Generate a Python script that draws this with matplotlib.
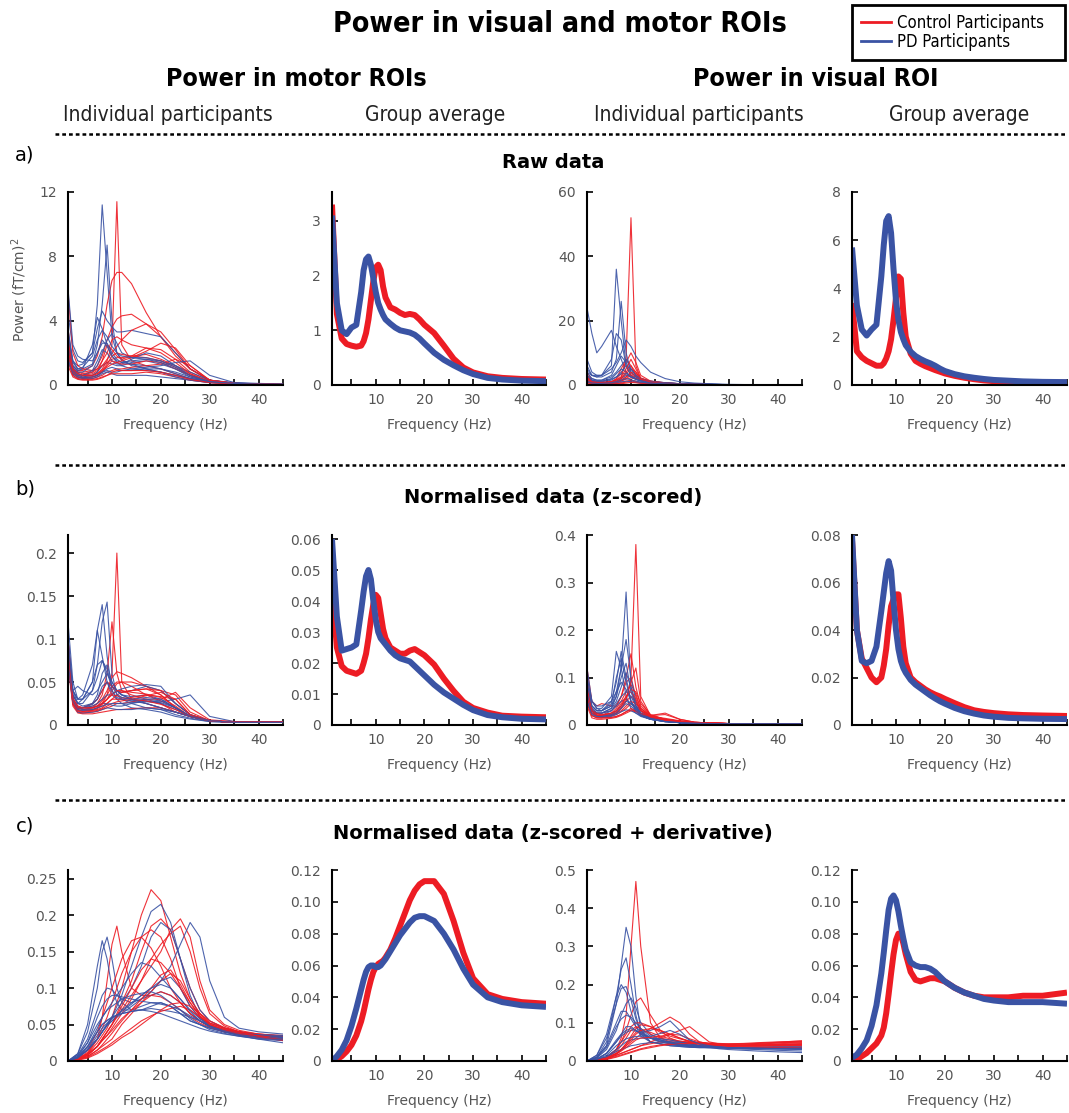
import matplotlib
matplotlib.use("Agg")
import matplotlib.pyplot as plt
from matplotlib.lines import Line2D

# colours used in the original figure
RED = "#ED1C24"
BLUE = "#3A53A4"
GREY = "#555555"

W, H = 1069, 1113

# frequency grids (Hz)
FREQ_AVG = [1, 2, 3, 4, 5, 6, 7, 7.5, 8, 8.5, 9, 9.5, 10, 10.5, 11, 11.5, 12,
            13, 14, 15, 16, 17, 18, 19, 20, 22, 24, 26, 28, 30, 33, 36, 40, 45]
FREQ_IND = [1, 2, 3, 4, 6, 7, 8, 9, 10, 11, 12, 14, 17, 20, 23, 26, 30, 35, 40, 45]
FREQ_DER = [1, 3, 5, 7, 8, 9, 10, 11, 12, 14, 16, 18, 20, 22, 24, 26, 28, 30, 33, 36, 40, 45]

# ---------------- a) raw data ----------------
motor_raw_ind_ctrl = [
    [3.0, 1.0, 0.7, 0.6, 0.6, 0.7, 1.0, 1.5, 2.5, 11.4, 2.5, 1.5, 1.2, 1.0, 0.7, 0.4, 0.2, 0.1, 0.05, 0.03],
    [3.5, 1.2, 0.9, 0.9, 1.2, 1.8, 3.0, 5.0, 6.5, 7.0, 7.0, 6.3, 4.5, 3.0, 1.8, 1.0, 0.3, 0.1, 0.05, 0.03],
    [3.0, 1.0, 0.8, 0.8, 0.9, 1.2, 1.8, 2.8, 3.6, 4.1, 4.3, 4.4, 3.8, 3.0, 2.0, 1.0, 0.3, 0.12, 0.06, 0.03],
    [2.5, 0.9, 0.7, 0.6, 0.7, 0.9, 1.2, 1.6, 2.0, 2.4, 2.8, 3.4, 3.8, 3.3, 2.2, 1.0, 0.3, 0.1, 0.05, 0.03],
    [2.5, 0.9, 0.6, 0.5, 0.6, 0.8, 1.5, 2.5, 2.2, 1.8, 1.6, 1.8, 2.3, 2.2, 1.6, 0.8, 0.25, 0.1, 0.05, 0.03],
    [5.8, 2.0, 1.2, 1.0, 0.9, 1.0, 1.2, 1.4, 1.6, 1.7, 1.7, 1.8, 1.9, 1.6, 1.2, 0.7, 0.2, 0.1, 0.05, 0.03],
    [2.0, 0.7, 0.5, 0.4, 0.4, 0.5, 0.6, 0.8, 0.9, 1.0, 1.0, 1.1, 1.2, 1.3, 1.6, 1.2, 0.3, 0.1, 0.04, 0.02],
    [1.5, 0.6, 0.4, 0.35, 0.35, 0.4, 0.5, 0.6, 0.7, 0.7, 0.7, 0.7, 0.8, 0.7, 0.5, 0.3, 0.15, 0.07, 0.03, 0.02],
    [3.0, 1.0, 0.8, 0.7, 0.8, 1.0, 1.5, 2.0, 2.8, 3.0, 2.8, 2.5, 2.3, 2.0, 1.4, 0.7, 0.2, 0.1, 0.05, 0.03],
    [2.2, 0.8, 0.5, 0.45, 0.5, 0.6, 0.8, 1.2, 1.5, 1.4, 1.3, 1.3, 1.5, 1.4, 1.0, 0.6, 0.2, 0.08, 0.04, 0.02],
    [1.8, 0.7, 0.5, 0.45, 0.5, 0.6, 0.9, 1.3, 1.8, 2.0, 1.9, 1.8, 1.7, 1.5, 1.1, 0.6, 0.2, 0.08, 0.04, 0.02],
    [2.8, 1.0, 0.7, 0.6, 0.6, 0.7, 0.9, 1.1, 1.3, 1.4, 1.5, 1.7, 2.1, 2.6, 2.3, 1.2, 0.3, 0.1, 0.05, 0.03],
    [1.2, 0.5, 0.35, 0.3, 0.3, 0.35, 0.45, 0.6, 0.8, 0.9, 0.9, 0.9, 0.9, 0.8, 0.6, 0.35, 0.15, 0.06, 0.03, 0.02],
]
motor_raw_ind_pd = [
    [4.5, 2.2, 1.5, 1.4, 2.0, 5.0, 11.2, 7.0, 3.0, 2.0, 1.6, 1.2, 1.0, 0.8, 0.6, 0.4, 0.2, 0.1, 0.08, 0.05],
    [3.5, 1.5, 1.0, 1.0, 1.3, 2.5, 5.0, 8.7, 4.0, 2.0, 1.5, 1.3, 1.2, 1.0, 0.7, 0.4, 0.2, 0.1, 0.06, 0.04],
    [3.0, 1.5, 1.2, 1.3, 2.0, 3.5, 4.6, 4.0, 3.6, 3.3, 3.3, 3.4, 3.2, 3.0, 2.0, 1.0, 0.3, 0.15, 0.1, 0.06],
    [2.5, 1.2, 0.9, 1.0, 2.5, 4.2, 3.5, 2.5, 1.8, 1.4, 1.2, 1.0, 0.9, 0.8, 0.6, 0.4, 0.2, 0.1, 0.05, 0.03],
    [2.0, 0.9, 0.6, 0.5, 0.6, 0.8, 1.2, 1.4, 1.3, 1.2, 1.2, 1.4, 1.5, 1.3, 1.0, 0.6, 0.2, 0.1, 0.05, 0.03],
    [2.2, 1.0, 0.7, 0.6, 0.8, 1.2, 2.0, 2.8, 3.2, 2.6, 2.0, 1.7, 1.6, 1.5, 1.2, 0.8, 0.3, 0.1, 0.05, 0.03],
    [1.5, 0.6, 0.4, 0.35, 0.4, 0.5, 0.7, 0.8, 0.7, 0.6, 0.6, 0.6, 0.6, 0.5, 0.4, 0.3, 0.15, 0.08, 0.04, 0.02],
    [1.8, 0.8, 0.6, 0.6, 0.9, 1.5, 2.2, 2.0, 1.5, 1.3, 1.3, 1.6, 2.0, 1.8, 1.2, 0.6, 0.2, 0.1, 0.05, 0.03],
    [2.0, 0.8, 0.5, 0.4, 0.5, 0.6, 0.8, 0.9, 0.8, 0.8, 0.9, 1.0, 1.1, 1.2, 1.4, 1.5, 0.6, 0.15, 0.06, 0.03],
    [6.0, 2.5, 1.8, 1.6, 1.5, 2.0, 2.6, 2.6, 2.0, 1.6, 1.4, 1.3, 1.0, 0.8, 0.5, 0.3, 0.15, 0.08, 0.04, 0.02],
    [2.6, 1.1, 0.8, 0.8, 1.2, 2.0, 2.8, 2.4, 1.8, 1.5, 1.4, 1.5, 1.6, 1.4, 1.0, 0.5, 0.2, 0.08, 0.04, 0.02],
    [1.6, 0.7, 0.5, 0.45, 0.5, 0.6, 0.8, 1.0, 1.1, 1.0, 0.9, 0.9, 1.0, 1.0, 0.8, 0.5, 0.2, 0.08, 0.04, 0.02],
    [3.2, 1.4, 1.0, 1.1, 1.8, 2.8, 3.4, 3.0, 2.4, 2.0, 1.8, 1.7, 1.7, 1.5, 1.1, 0.6, 0.2, 0.1, 0.05, 0.03],
]
motor_raw_avg_ctrl = [3.3, 1.3, 0.85, 0.75, 0.72, 0.7, 0.72, 0.8, 0.95, 1.2, 1.55, 1.9, 2.15, 2.2, 2.1, 1.8, 1.6,
                      1.42, 1.38, 1.32, 1.28, 1.3, 1.28, 1.2, 1.1, 0.95, 0.72, 0.48, 0.32, 0.23, 0.16, 0.13, 0.11, 0.1]
motor_raw_avg_pd = [3.1, 1.5, 1.0, 0.93, 1.05, 1.1, 1.7, 2.1, 2.3, 2.35, 2.2, 1.95, 1.7, 1.5, 1.38, 1.28, 1.2,
                    1.12, 1.05, 1.0, 0.98, 0.96, 0.92, 0.85, 0.76, 0.59, 0.46, 0.36, 0.27, 0.2, 0.13, 0.1, 0.08, 0.07]

visual_raw_ind_ctrl = [
    [3, 1, 0.8, 0.8, 1, 1.5, 2.5, 8, 52, 6, 2, 1.0, 0.5, 0.3, 0.2, 0.15, 0.1, 0.05, 0.03, 0.02],
    [2, 0.8, 0.6, 0.6, 1, 1.8, 3.5, 7, 10, 7, 3, 1.2, 0.6, 0.3, 0.2, 0.15, 0.1, 0.05, 0.03, 0.02],
    [2, 0.8, 0.6, 0.6, 1, 2, 5, 8, 6, 3, 1.5, 0.8, 0.5, 0.3, 0.2, 0.15, 0.1, 0.05, 0.03, 0.02],
    [1.5, 0.6, 0.5, 0.5, 0.7, 1, 2, 3.5, 5, 4, 2, 1.0, 0.5, 0.3, 0.2, 0.12, 0.08, 0.04, 0.02, 0.01],
    [1.2, 0.5, 0.4, 0.4, 0.5, 0.8, 1.2, 2, 3, 2.5, 1.5, 0.8, 0.5, 0.3, 0.2, 0.12, 0.08, 0.04, 0.02, 0.01],
    [2.5, 1, 0.7, 0.6, 0.7, 0.9, 1.3, 1.8, 2.2, 2, 1.6, 1.0, 0.6, 0.35, 0.2, 0.12, 0.08, 0.04, 0.02, 0.01],
    [1, 0.4, 0.3, 0.3, 0.4, 0.5, 0.8, 1.2, 1.5, 1.2, 0.8, 0.5, 0.3, 0.2, 0.15, 0.1, 0.06, 0.03, 0.02, 0.01],
    [4, 1.5, 1, 0.8, 0.8, 1, 1.5, 2.5, 4, 3.5, 2.2, 1.2, 0.7, 0.4, 0.25, 0.15, 0.08, 0.04, 0.02, 0.01],
    [0.8, 0.3, 0.25, 0.25, 0.3, 0.4, 0.6, 0.9, 1.2, 1, 0.7, 0.45, 0.3, 0.2, 0.12, 0.08, 0.05, 0.03, 0.02, 0.01],
    [2, 0.7, 0.5, 0.5, 0.6, 1, 2, 4, 6, 4, 1.8, 0.8, 0.4, 0.25, 0.15, 0.1, 0.06, 0.03, 0.02, 0.01],
    [1.5, 0.6, 0.5, 0.5, 0.6, 0.9, 1.5, 2.5, 3.5, 3.0, 1.8, 1.0, 0.5, 0.3, 0.2, 0.12, 0.07, 0.04, 0.02, 0.01],
    [0.6, 0.25, 0.2, 0.2, 0.25, 0.3, 0.4, 0.6, 0.8, 0.7, 0.5, 0.3, 0.2, 0.15, 0.1, 0.07, 0.04, 0.02, 0.01, 0.01],
    [2.5, 1, 0.8, 0.8, 1, 1.5, 2.5, 5, 8, 5, 2, 0.9, 0.45, 0.25, 0.15, 0.1, 0.06, 0.03, 0.02, 0.01],
]
visual_raw_ind_pd = [
    [24, 16, 10, 12, 17, 12, 8, 4, 2.5, 1.8, 1.3, 0.8, 0.5, 0.3, 0.2, 0.15, 0.1, 0.05, 0.03, 0.02],
    [8, 4, 3, 3, 6, 36, 20, 6, 3, 2, 1.5, 1.0, 0.6, 0.4, 0.3, 0.2, 0.1, 0.05, 0.03, 0.02],
    [6, 3, 2.5, 2.5, 4, 8, 26, 10, 4, 2.5, 1.8, 1.2, 0.7, 0.4, 0.3, 0.2, 0.1, 0.05, 0.03, 0.02],
    [5, 3, 2.5, 3, 8, 16, 14, 6, 3, 2, 1.5, 1.0, 0.6, 0.4, 0.3, 0.2, 0.1, 0.05, 0.03, 0.02],
    [4, 3, 3, 3, 5, 7, 10, 14, 12, 9, 7, 4, 2, 1, 0.6, 0.4, 0.2, 0.1, 0.05, 0.03],
    [3, 2, 1.5, 1.5, 3, 6, 9, 7, 4, 2.5, 1.8, 1.0, 0.6, 0.4, 0.3, 0.2, 0.1, 0.05, 0.03, 0.02],
    [2, 1.2, 1, 1, 1.5, 2.5, 4, 6, 5, 3, 2, 1.2, 0.7, 0.4, 0.3, 0.2, 0.1, 0.05, 0.03, 0.02],
    [1.5, 0.8, 0.6, 0.6, 0.8, 1.2, 2, 3, 2.5, 1.8, 1.2, 0.8, 0.5, 0.3, 0.2, 0.15, 0.08, 0.04, 0.02, 0.01],
    [3, 1.5, 1.2, 1.2, 2, 3.5, 5, 4, 2.5, 1.8, 1.3, 0.9, 0.6, 0.4, 0.3, 0.2, 0.1, 0.05, 0.03, 0.02],
    [1, 0.5, 0.4, 0.4, 0.5, 0.7, 1, 1.2, 1.0, 0.8, 0.6, 0.4, 0.3, 0.2, 0.15, 0.1, 0.06, 0.03, 0.02, 0.01],
    [4, 2, 1.5, 1.5, 2.5, 4, 6, 8, 5, 3, 2, 1.0, 0.6, 0.4, 0.25, 0.15, 0.08, 0.04, 0.02, 0.01],
    [2.5, 1.5, 1.2, 1.2, 1.8, 2.5, 3.5, 3.5, 2.5, 1.8, 1.3, 0.8, 0.5, 0.3, 0.2, 0.12, 0.07, 0.04, 0.02, 0.01],
    [1.2, 0.6, 0.5, 0.5, 0.7, 1, 1.5, 2, 1.6, 1.2, 0.9, 0.6, 0.4, 0.25, 0.15, 0.1, 0.06, 0.03, 0.02, 0.01],
]
visual_raw_avg_ctrl = [3.4, 1.4, 1.15, 1.0, 0.9, 0.8, 0.8, 0.9, 1.1, 1.4, 1.9, 2.7, 3.6, 4.5, 4.4, 3.0, 2.0,
                       1.3, 1.0, 0.88, 0.78, 0.7, 0.62, 0.55, 0.48, 0.38, 0.3, 0.24, 0.19, 0.16, 0.13, 0.11, 0.1, 0.1]
visual_raw_avg_pd = [5.7, 3.3, 2.3, 2.05, 2.3, 2.5, 4.5, 5.8, 6.8, 7.0, 6.3, 4.8, 3.5, 2.7, 2.2, 1.9, 1.65,
                     1.38, 1.2, 1.08, 0.98, 0.9, 0.8, 0.68, 0.58, 0.45, 0.36, 0.3, 0.25, 0.21, 0.18, 0.15, 0.13, 0.12]

# ---------------- b) z-scored ----------------
motor_z_ind_ctrl = [
    [0.10, 0.03, 0.02, 0.018, 0.018, 0.02, 0.025, 0.035, 0.06, 0.2, 0.05, 0.03, 0.025, 0.02, 0.015, 0.01, 0.005, 0.003, 0.003, 0.003],
    [0.10, 0.035, 0.022, 0.02, 0.02, 0.025, 0.035, 0.06, 0.12, 0.06, 0.04, 0.035, 0.03, 0.025, 0.015, 0.01, 0.005, 0.003, 0.003, 0.003],
    [0.09, 0.03, 0.02, 0.02, 0.022, 0.025, 0.03, 0.04, 0.055, 0.062, 0.06, 0.055, 0.045, 0.035, 0.02, 0.01, 0.005, 0.003, 0.003, 0.003],
    [0.09, 0.03, 0.02, 0.018, 0.02, 0.022, 0.025, 0.03, 0.04, 0.048, 0.05, 0.05, 0.045, 0.04, 0.025, 0.012, 0.005, 0.003, 0.003, 0.003],
    [0.08, 0.025, 0.017, 0.016, 0.017, 0.018, 0.02, 0.025, 0.03, 0.035, 0.038, 0.04, 0.042, 0.04, 0.035, 0.015, 0.005, 0.003, 0.003, 0.003],
    [0.08, 0.025, 0.015, 0.014, 0.015, 0.016, 0.018, 0.02, 0.022, 0.025, 0.025, 0.027, 0.03, 0.03, 0.038, 0.02, 0.006, 0.004, 0.004, 0.004],
    [0.10, 0.03, 0.02, 0.02, 0.025, 0.03, 0.04, 0.05, 0.045, 0.04, 0.038, 0.04, 0.042, 0.035, 0.02, 0.01, 0.005, 0.003, 0.003, 0.003],
    [0.07, 0.022, 0.014, 0.013, 0.013, 0.014, 0.015, 0.016, 0.017, 0.018, 0.018, 0.019, 0.02, 0.02, 0.015, 0.01, 0.005, 0.003, 0.003, 0.003],
    [0.09, 0.03, 0.022, 0.02, 0.02, 0.022, 0.028, 0.035, 0.045, 0.05, 0.05, 0.045, 0.035, 0.028, 0.02, 0.01, 0.005, 0.004, 0.004, 0.004],
    [0.08, 0.025, 0.018, 0.016, 0.018, 0.02, 0.022, 0.025, 0.03, 0.03, 0.03, 0.032, 0.035, 0.033, 0.03, 0.012, 0.005, 0.003, 0.003, 0.003],
    [0.085, 0.028, 0.018, 0.016, 0.017, 0.019, 0.024, 0.03, 0.036, 0.04, 0.04, 0.038, 0.036, 0.032, 0.022, 0.01, 0.005, 0.003, 0.003, 0.003],
    [0.075, 0.024, 0.016, 0.015, 0.016, 0.017, 0.019, 0.022, 0.025, 0.027, 0.028, 0.03, 0.034, 0.038, 0.03, 0.012, 0.005, 0.003, 0.003, 0.003],
    [0.09, 0.03, 0.02, 0.02, 0.02, 0.022, 0.025, 0.03, 0.035, 0.034, 0.032, 0.03, 0.028, 0.024, 0.018, 0.01, 0.005, 0.003, 0.003, 0.003],
]
motor_z_ind_pd = [
    [0.12, 0.05, 0.03, 0.03, 0.05, 0.11, 0.14, 0.08, 0.04, 0.03, 0.03, 0.025, 0.02, 0.018, 0.012, 0.008, 0.004, 0.003, 0.003, 0.003],
    [0.10, 0.04, 0.025, 0.025, 0.04, 0.07, 0.12, 0.143, 0.06, 0.035, 0.03, 0.028, 0.025, 0.02, 0.015, 0.01, 0.005, 0.003, 0.003, 0.003],
    [0.10, 0.04, 0.03, 0.035, 0.07, 0.11, 0.08, 0.05, 0.035, 0.03, 0.025, 0.02, 0.018, 0.015, 0.01, 0.007, 0.004, 0.003, 0.003, 0.003],
    [0.09, 0.035, 0.025, 0.03, 0.05, 0.07, 0.075, 0.065, 0.045, 0.04, 0.038, 0.04, 0.045, 0.04, 0.025, 0.012, 0.005, 0.003, 0.003, 0.003],
    [0.08, 0.03, 0.02, 0.02, 0.025, 0.03, 0.04, 0.05, 0.045, 0.04, 0.035, 0.033, 0.035, 0.03, 0.02, 0.01, 0.005, 0.003, 0.003, 0.003],
    [0.08, 0.03, 0.02, 0.018, 0.02, 0.022, 0.025, 0.025, 0.023, 0.022, 0.022, 0.025, 0.028, 0.027, 0.03, 0.035, 0.01, 0.004, 0.003, 0.003],
    [0.10, 0.035, 0.025, 0.022, 0.025, 0.035, 0.06, 0.07, 0.05, 0.04, 0.035, 0.03, 0.028, 0.025, 0.018, 0.01, 0.005, 0.003, 0.003, 0.003],
    [0.07, 0.025, 0.015, 0.014, 0.015, 0.016, 0.018, 0.02, 0.019, 0.018, 0.018, 0.018, 0.02, 0.018, 0.015, 0.01, 0.005, 0.003, 0.003, 0.003],
    [0.09, 0.04, 0.045, 0.04, 0.035, 0.04, 0.05, 0.06, 0.05, 0.04, 0.035, 0.03, 0.025, 0.02, 0.015, 0.01, 0.005, 0.003, 0.003, 0.003],
    [0.08, 0.03, 0.02, 0.02, 0.022, 0.025, 0.03, 0.035, 0.035, 0.04, 0.042, 0.045, 0.047, 0.045, 0.025, 0.012, 0.005, 0.003, 0.003, 0.003],
    [0.085, 0.03, 0.02, 0.02, 0.024, 0.03, 0.045, 0.05, 0.04, 0.032, 0.03, 0.028, 0.03, 0.028, 0.02, 0.01, 0.005, 0.003, 0.003, 0.003],
    [0.075, 0.028, 0.018, 0.017, 0.018, 0.02, 0.022, 0.024, 0.025, 0.025, 0.025, 0.026, 0.027, 0.026, 0.02, 0.01, 0.005, 0.003, 0.003, 0.003],
    [0.095, 0.04, 0.03, 0.03, 0.04, 0.055, 0.075, 0.06, 0.045, 0.036, 0.032, 0.03, 0.032, 0.03, 0.02, 0.01, 0.005, 0.003, 0.003, 0.003],
]
motor_z_avg_ctrl = [0.045, 0.025, 0.019, 0.0175, 0.017, 0.0165, 0.0175, 0.02, 0.023, 0.028, 0.034, 0.039, 0.042, 0.041,
                    0.036, 0.031, 0.028, 0.025, 0.024, 0.023, 0.023, 0.024, 0.0245, 0.0235, 0.0225, 0.0195, 0.015,
                    0.011, 0.0075, 0.0055, 0.004, 0.003, 0.0027, 0.0025]
motor_z_avg_pd = [0.06, 0.035, 0.024, 0.0245, 0.025, 0.026, 0.037, 0.043, 0.048, 0.05, 0.047, 0.04, 0.034, 0.03,
                  0.028, 0.027, 0.026, 0.024, 0.0225, 0.0215, 0.021, 0.0205, 0.019, 0.0175, 0.016, 0.013, 0.0105,
                  0.0085, 0.0065, 0.0048, 0.0032, 0.0025, 0.002, 0.0018]

visual_z_ind_ctrl = [
    [0.08, 0.03, 0.02, 0.018, 0.02, 0.025, 0.035, 0.05, 0.1, 0.38, 0.06, 0.02, 0.01, 0.007, 0.005, 0.004, 0.003, 0.003, 0.003, 0.003],
    [0.12, 0.05, 0.04, 0.045, 0.04, 0.04, 0.06, 0.1, 0.15, 0.08, 0.04, 0.02, 0.012, 0.008, 0.005, 0.004, 0.003, 0.003, 0.003, 0.003],
    [0.07, 0.03, 0.025, 0.025, 0.03, 0.04, 0.06, 0.09, 0.1, 0.06, 0.035, 0.018, 0.01, 0.007, 0.005, 0.004, 0.003, 0.003, 0.003, 0.003],
    [0.06, 0.025, 0.02, 0.02, 0.025, 0.035, 0.05, 0.07, 0.085, 0.065, 0.035, 0.018, 0.01, 0.007, 0.005, 0.004, 0.003, 0.003, 0.003, 0.003],
    [0.05, 0.02, 0.015, 0.015, 0.02, 0.025, 0.035, 0.05, 0.06, 0.05, 0.03, 0.02, 0.022, 0.012, 0.006, 0.004, 0.003, 0.003, 0.003, 0.003],
    [0.06, 0.025, 0.02, 0.018, 0.02, 0.022, 0.028, 0.035, 0.045, 0.04, 0.03, 0.02, 0.025, 0.012, 0.006, 0.004, 0.003, 0.003, 0.003, 0.003],
    [0.05, 0.02, 0.016, 0.015, 0.016, 0.018, 0.022, 0.028, 0.035, 0.03, 0.025, 0.018, 0.012, 0.008, 0.005, 0.004, 0.003, 0.003, 0.003, 0.003],
    [0.09, 0.035, 0.025, 0.02, 0.022, 0.025, 0.03, 0.04, 0.05, 0.045, 0.035, 0.02, 0.012, 0.008, 0.005, 0.004, 0.003, 0.003, 0.003, 0.003],
    [0.04, 0.015, 0.012, 0.012, 0.014, 0.016, 0.02, 0.025, 0.03, 0.028, 0.022, 0.015, 0.01, 0.007, 0.005, 0.004, 0.003, 0.003, 0.003, 0.003],
    [0.07, 0.03, 0.022, 0.02, 0.025, 0.03, 0.045, 0.06, 0.075, 0.07, 0.045, 0.022, 0.012, 0.008, 0.005, 0.004, 0.003, 0.003, 0.003, 0.003],
    [0.06, 0.025, 0.02, 0.02, 0.022, 0.028, 0.04, 0.06, 0.07, 0.055, 0.03, 0.016, 0.01, 0.007, 0.005, 0.004, 0.003, 0.003, 0.003, 0.003],
    [0.045, 0.02, 0.015, 0.015, 0.016, 0.018, 0.022, 0.028, 0.032, 0.03, 0.024, 0.018, 0.014, 0.009, 0.006, 0.004, 0.003, 0.003, 0.003, 0.003],
    [0.08, 0.03, 0.024, 0.022, 0.025, 0.03, 0.04, 0.055, 0.09, 0.12, 0.05, 0.02, 0.01, 0.007, 0.005, 0.004, 0.003, 0.003, 0.003, 0.003],
]
visual_z_ind_pd = [
    [0.10, 0.05, 0.035, 0.03, 0.04, 0.06, 0.12, 0.28, 0.08, 0.04, 0.025, 0.015, 0.008, 0.005, 0.004, 0.003, 0.003, 0.003, 0.003, 0.003],
    [0.12, 0.05, 0.035, 0.035, 0.06, 0.155, 0.12, 0.06, 0.035, 0.025, 0.02, 0.012, 0.008, 0.005, 0.004, 0.003, 0.003, 0.003, 0.003, 0.003],
    [0.09, 0.04, 0.03, 0.03, 0.05, 0.09, 0.155, 0.1, 0.05, 0.03, 0.02, 0.012, 0.008, 0.005, 0.004, 0.003, 0.003, 0.003, 0.003, 0.003],
    [0.08, 0.04, 0.03, 0.03, 0.04, 0.07, 0.12, 0.18, 0.1, 0.05, 0.03, 0.015, 0.008, 0.005, 0.004, 0.003, 0.003, 0.003, 0.003, 0.003],
    [0.07, 0.03, 0.025, 0.025, 0.035, 0.05, 0.08, 0.11, 0.08, 0.045, 0.03, 0.015, 0.008, 0.005, 0.004, 0.003, 0.003, 0.003, 0.003, 0.003],
    [0.06, 0.03, 0.02, 0.02, 0.03, 0.045, 0.06, 0.07, 0.06, 0.04, 0.025, 0.015, 0.008, 0.005, 0.004, 0.003, 0.003, 0.003, 0.003, 0.003],
    [0.10, 0.05, 0.04, 0.04, 0.05, 0.07, 0.09, 0.075, 0.05, 0.035, 0.025, 0.015, 0.008, 0.005, 0.004, 0.003, 0.003, 0.003, 0.003, 0.003],
    [0.05, 0.025, 0.02, 0.018, 0.02, 0.025, 0.035, 0.045, 0.04, 0.03, 0.02, 0.012, 0.007, 0.005, 0.004, 0.003, 0.003, 0.003, 0.003, 0.003],
    [0.08, 0.035, 0.025, 0.025, 0.03, 0.04, 0.05, 0.055, 0.045, 0.035, 0.025, 0.015, 0.008, 0.005, 0.004, 0.003, 0.003, 0.003, 0.003, 0.003],
    [0.06, 0.025, 0.018, 0.016, 0.018, 0.022, 0.028, 0.032, 0.03, 0.025, 0.018, 0.012, 0.007, 0.005, 0.004, 0.003, 0.003, 0.003, 0.003, 0.003],
    [0.07, 0.03, 0.025, 0.025, 0.035, 0.06, 0.1, 0.13, 0.07, 0.04, 0.025, 0.014, 0.008, 0.005, 0.004, 0.003, 0.003, 0.003, 0.003, 0.003],
    [0.05, 0.022, 0.018, 0.018, 0.022, 0.03, 0.04, 0.05, 0.045, 0.035, 0.022, 0.013, 0.007, 0.005, 0.004, 0.003, 0.003, 0.003, 0.003, 0.003],
    [0.09, 0.04, 0.03, 0.03, 0.045, 0.1, 0.14, 0.09, 0.05, 0.03, 0.02, 0.012, 0.007, 0.005, 0.004, 0.003, 0.003, 0.003, 0.003, 0.003],
]
visual_z_avg_ctrl = [0.078, 0.04, 0.028, 0.024, 0.02, 0.018, 0.02, 0.025, 0.032, 0.042, 0.05, 0.053, 0.055, 0.055,
                     0.045, 0.033, 0.026, 0.02, 0.018, 0.0165, 0.015, 0.0138, 0.0128, 0.012, 0.011, 0.0092, 0.0075,
                     0.0062, 0.0055, 0.005, 0.0045, 0.0042, 0.004, 0.0038]
visual_z_avg_pd = [0.08, 0.04, 0.027, 0.026, 0.027, 0.033, 0.048, 0.056, 0.064, 0.069, 0.065, 0.052, 0.04, 0.032,
                   0.027, 0.024, 0.022, 0.019, 0.017, 0.0155, 0.014, 0.0125, 0.0112, 0.01, 0.009, 0.0072, 0.0058,
                   0.0048, 0.004, 0.0035, 0.003, 0.0028, 0.0026, 0.0025]

# ---------------- c) z-scored + derivative ----------------
motor_d_ind_ctrl = [
    [0.0, 0.003, 0.01, 0.03, 0.06, 0.11, 0.16, 0.185, 0.15, 0.1, 0.09, 0.09, 0.088, 0.08, 0.07, 0.06, 0.052, 0.046, 0.04, 0.037, 0.034, 0.03],
    [0.0, 0.003, 0.01, 0.025, 0.035, 0.045, 0.06, 0.08, 0.1, 0.15, 0.2, 0.235, 0.22, 0.17, 0.12, 0.085, 0.065, 0.052, 0.045, 0.04, 0.036, 0.033],
    [0.0, 0.003, 0.01, 0.02, 0.03, 0.04, 0.05, 0.065, 0.08, 0.11, 0.15, 0.185, 0.195, 0.18, 0.14, 0.1, 0.07, 0.055, 0.045, 0.04, 0.037, 0.034],
    [0.0, 0.002, 0.008, 0.02, 0.03, 0.04, 0.05, 0.06, 0.07, 0.09, 0.11, 0.13, 0.15, 0.18, 0.195, 0.17, 0.11, 0.07, 0.05, 0.042, 0.037, 0.034],
    [0.0, 0.002, 0.008, 0.02, 0.028, 0.035, 0.045, 0.055, 0.065, 0.085, 0.11, 0.14, 0.16, 0.175, 0.185, 0.15, 0.1, 0.065, 0.048, 0.04, 0.036, 0.033],
    [0.0, 0.003, 0.012, 0.03, 0.045, 0.06, 0.08, 0.1, 0.12, 0.15, 0.17, 0.18, 0.17, 0.14, 0.1, 0.075, 0.06, 0.05, 0.043, 0.038, 0.034, 0.03],
    [0.0, 0.004, 0.015, 0.04, 0.06, 0.08, 0.1, 0.12, 0.14, 0.165, 0.17, 0.155, 0.13, 0.1, 0.08, 0.065, 0.055, 0.047, 0.04, 0.036, 0.032, 0.028],
    [0.0, 0.002, 0.006, 0.015, 0.02, 0.025, 0.03, 0.04, 0.05, 0.065, 0.08, 0.095, 0.11, 0.12, 0.11, 0.085, 0.065, 0.052, 0.045, 0.04, 0.035, 0.03],
    [0.0, 0.002, 0.008, 0.02, 0.028, 0.035, 0.042, 0.05, 0.058, 0.07, 0.08, 0.09, 0.095, 0.09, 0.08, 0.065, 0.055, 0.048, 0.043, 0.04, 0.037, 0.035],
    [0.0, 0.002, 0.005, 0.012, 0.016, 0.02, 0.025, 0.03, 0.035, 0.045, 0.055, 0.062, 0.068, 0.072, 0.075, 0.07, 0.06, 0.052, 0.045, 0.04, 0.035, 0.03],
    [0.0, 0.002, 0.008, 0.02, 0.03, 0.04, 0.05, 0.062, 0.075, 0.1, 0.125, 0.14, 0.135, 0.12, 0.1, 0.08, 0.062, 0.05, 0.042, 0.037, 0.033, 0.03],
    [0.0, 0.002, 0.006, 0.015, 0.022, 0.03, 0.038, 0.047, 0.055, 0.07, 0.085, 0.1, 0.118, 0.125, 0.105, 0.08, 0.062, 0.05, 0.043, 0.038, 0.034, 0.03],
    [0.0, 0.001, 0.004, 0.01, 0.014, 0.018, 0.022, 0.027, 0.032, 0.04, 0.05, 0.06, 0.07, 0.078, 0.08, 0.075, 0.065, 0.055, 0.046, 0.04, 0.034, 0.028],
]
motor_d_ind_pd = [
    [0.0, 0.01, 0.05, 0.13, 0.165, 0.14, 0.1, 0.08, 0.07, 0.07, 0.075, 0.08, 0.08, 0.075, 0.065, 0.055, 0.05, 0.045, 0.04, 0.038, 0.035, 0.033],
    [0.0, 0.01, 0.04, 0.1, 0.15, 0.17, 0.14, 0.1, 0.08, 0.07, 0.07, 0.075, 0.08, 0.075, 0.065, 0.055, 0.05, 0.045, 0.04, 0.037, 0.035, 0.033],
    [0.0, 0.008, 0.03, 0.07, 0.09, 0.1, 0.098, 0.09, 0.085, 0.08, 0.085, 0.09, 0.095, 0.09, 0.08, 0.065, 0.055, 0.048, 0.042, 0.038, 0.035, 0.033],
    [0.0, 0.005, 0.015, 0.03, 0.04, 0.05, 0.06, 0.075, 0.09, 0.13, 0.17, 0.205, 0.215, 0.19, 0.14, 0.09, 0.06, 0.048, 0.04, 0.035, 0.032, 0.03],
    [0.0, 0.005, 0.015, 0.03, 0.04, 0.05, 0.055, 0.06, 0.065, 0.075, 0.085, 0.095, 0.11, 0.13, 0.16, 0.19, 0.17, 0.11, 0.06, 0.045, 0.04, 0.037],
    [0.0, 0.005, 0.015, 0.03, 0.04, 0.05, 0.06, 0.07, 0.08, 0.1, 0.13, 0.17, 0.19, 0.18, 0.14, 0.1, 0.07, 0.055, 0.045, 0.04, 0.036, 0.033],
    [0.0, 0.008, 0.025, 0.05, 0.06, 0.07, 0.08, 0.09, 0.1, 0.12, 0.135, 0.13, 0.115, 0.1, 0.085, 0.07, 0.058, 0.05, 0.043, 0.038, 0.035, 0.032],
    [0.0, 0.005, 0.02, 0.04, 0.05, 0.055, 0.06, 0.063, 0.065, 0.068, 0.07, 0.072, 0.07, 0.068, 0.065, 0.06, 0.055, 0.048, 0.042, 0.037, 0.034, 0.032],
    [0.0, 0.005, 0.015, 0.03, 0.04, 0.048, 0.055, 0.062, 0.07, 0.08, 0.09, 0.1, 0.11, 0.115, 0.1, 0.075, 0.058, 0.048, 0.04, 0.035, 0.03, 0.028],
    [0.0, 0.006, 0.02, 0.045, 0.06, 0.07, 0.075, 0.08, 0.085, 0.09, 0.093, 0.095, 0.09, 0.08, 0.07, 0.058, 0.05, 0.043, 0.038, 0.034, 0.03, 0.025],
    [0.0, 0.006, 0.025, 0.06, 0.075, 0.085, 0.09, 0.09, 0.088, 0.085, 0.082, 0.08, 0.078, 0.075, 0.07, 0.062, 0.055, 0.048, 0.042, 0.038, 0.036, 0.035],
    [0.0, 0.004, 0.015, 0.035, 0.045, 0.052, 0.058, 0.063, 0.068, 0.078, 0.09, 0.1, 0.105, 0.1, 0.085, 0.068, 0.055, 0.047, 0.04, 0.036, 0.033, 0.031],
    [0.0, 0.005, 0.018, 0.04, 0.05, 0.056, 0.06, 0.063, 0.065, 0.068, 0.07, 0.068, 0.065, 0.06, 0.055, 0.05, 0.045, 0.041, 0.037, 0.034, 0.031, 0.029],
]
motor_d_avg_ctrl = [0.0, 0.001, 0.003, 0.006, 0.01, 0.016, 0.025, 0.031, 0.038, 0.045, 0.051, 0.056, 0.059, 0.061,
                    0.062, 0.063, 0.065, 0.07, 0.077, 0.085, 0.093, 0.101, 0.107, 0.111, 0.113, 0.113, 0.105, 0.088,
                    0.068, 0.052, 0.042, 0.039, 0.037, 0.036]
motor_d_avg_pd = [0.0, 0.003, 0.007, 0.013, 0.022, 0.033, 0.045, 0.051, 0.056, 0.059, 0.06, 0.06, 0.059, 0.059,
                  0.06, 0.062, 0.064, 0.069, 0.074, 0.079, 0.083, 0.087, 0.09, 0.091, 0.091, 0.088, 0.08, 0.07,
                  0.058, 0.048, 0.04, 0.037, 0.035, 0.034]

visual_d_ind_ctrl = [
    [0.0, 0.003, 0.01, 0.03, 0.06, 0.12, 0.3, 0.47, 0.3, 0.1, 0.06, 0.05, 0.045, 0.042, 0.04, 0.04, 0.04, 0.04, 0.041, 0.042, 0.043, 0.044],
    [0.0, 0.003, 0.01, 0.03, 0.05, 0.08, 0.12, 0.155, 0.165, 0.12, 0.08, 0.06, 0.05, 0.045, 0.042, 0.04, 0.04, 0.04, 0.041, 0.042, 0.043, 0.044],
    [0.0, 0.002, 0.008, 0.02, 0.03, 0.04, 0.05, 0.06, 0.07, 0.085, 0.1, 0.115, 0.1, 0.07, 0.05, 0.045, 0.042, 0.04, 0.04, 0.04, 0.041, 0.042],
    [0.0, 0.002, 0.006, 0.015, 0.02, 0.025, 0.03, 0.035, 0.04, 0.05, 0.06, 0.07, 0.08, 0.09, 0.07, 0.05, 0.045, 0.042, 0.04, 0.04, 0.042, 0.045],
    [0.0, 0.003, 0.01, 0.03, 0.05, 0.07, 0.09, 0.1, 0.1, 0.09, 0.08, 0.07, 0.06, 0.05, 0.045, 0.042, 0.04, 0.04, 0.04, 0.041, 0.043, 0.045],
    [0.0, 0.002, 0.008, 0.02, 0.03, 0.045, 0.06, 0.075, 0.08, 0.075, 0.065, 0.058, 0.052, 0.048, 0.045, 0.043, 0.042, 0.042, 0.042, 0.044, 0.047, 0.05],
    [0.0, 0.002, 0.006, 0.015, 0.02, 0.025, 0.03, 0.035, 0.04, 0.045, 0.05, 0.052, 0.052, 0.05, 0.048, 0.046, 0.045, 0.045, 0.046, 0.048, 0.05, 0.052],
    [0.0, 0.003, 0.01, 0.025, 0.04, 0.06, 0.08, 0.09, 0.085, 0.07, 0.06, 0.055, 0.05, 0.047, 0.045, 0.043, 0.042, 0.041, 0.04, 0.04, 0.04, 0.04],
    [0.0, 0.002, 0.005, 0.012, 0.016, 0.02, 0.024, 0.028, 0.032, 0.038, 0.042, 0.045, 0.047, 0.048, 0.048, 0.047, 0.046, 0.045, 0.045, 0.046, 0.048, 0.05],
    [0.0, 0.002, 0.007, 0.018, 0.028, 0.04, 0.055, 0.07, 0.08, 0.085, 0.08, 0.07, 0.06, 0.052, 0.046, 0.042, 0.04, 0.038, 0.037, 0.036, 0.035, 0.034],
    [0.0, 0.002, 0.008, 0.02, 0.03, 0.045, 0.065, 0.085, 0.095, 0.09, 0.075, 0.065, 0.058, 0.052, 0.048, 0.045, 0.043, 0.042, 0.042, 0.043, 0.045, 0.048],
    [0.0, 0.001, 0.004, 0.01, 0.014, 0.018, 0.022, 0.026, 0.03, 0.035, 0.04, 0.043, 0.045, 0.046, 0.045, 0.044, 0.043, 0.043, 0.044, 0.046, 0.049, 0.053],
    [0.0, 0.002, 0.007, 0.018, 0.026, 0.035, 0.045, 0.055, 0.06, 0.062, 0.065, 0.07, 0.068, 0.058, 0.05, 0.045, 0.042, 0.04, 0.039, 0.039, 0.04, 0.041],
]
visual_d_ind_pd = [
    [0.0, 0.01, 0.04, 0.15, 0.25, 0.35, 0.3, 0.17, 0.08, 0.05, 0.045, 0.04, 0.038, 0.036, 0.035, 0.035, 0.035, 0.036, 0.036, 0.037, 0.038, 0.038],
    [0.0, 0.01, 0.05, 0.17, 0.24, 0.27, 0.2, 0.12, 0.07, 0.05, 0.045, 0.04, 0.038, 0.036, 0.035, 0.035, 0.035, 0.035, 0.035, 0.035, 0.035, 0.035],
    [0.0, 0.015, 0.07, 0.17, 0.2, 0.18, 0.13, 0.09, 0.065, 0.05, 0.045, 0.042, 0.04, 0.038, 0.036, 0.035, 0.035, 0.035, 0.034, 0.034, 0.033, 0.033],
    [0.0, 0.015, 0.06, 0.15, 0.19, 0.195, 0.16, 0.11, 0.08, 0.06, 0.05, 0.045, 0.04, 0.038, 0.036, 0.035, 0.034, 0.034, 0.033, 0.033, 0.033, 0.033],
    [0.0, 0.008, 0.03, 0.08, 0.12, 0.15, 0.165, 0.14, 0.1, 0.07, 0.055, 0.048, 0.042, 0.04, 0.038, 0.036, 0.035, 0.035, 0.034, 0.034, 0.034, 0.034],
    [0.0, 0.01, 0.04, 0.1, 0.13, 0.13, 0.11, 0.09, 0.075, 0.06, 0.05, 0.045, 0.042, 0.04, 0.038, 0.036, 0.035, 0.035, 0.034, 0.034, 0.033, 0.033],
    [0.0, 0.005, 0.02, 0.05, 0.065, 0.075, 0.08, 0.078, 0.075, 0.08, 0.09, 0.105, 0.08, 0.055, 0.045, 0.04, 0.038, 0.036, 0.035, 0.034, 0.033, 0.033],
    [0.0, 0.005, 0.02, 0.05, 0.07, 0.09, 0.09, 0.08, 0.07, 0.06, 0.055, 0.05, 0.045, 0.042, 0.04, 0.038, 0.036, 0.035, 0.034, 0.034, 0.033, 0.032],
    [0.0, 0.003, 0.012, 0.03, 0.04, 0.05, 0.055, 0.058, 0.06, 0.06, 0.058, 0.055, 0.05, 0.045, 0.04, 0.037, 0.035, 0.033, 0.031, 0.03, 0.028, 0.026],
    [0.0, 0.003, 0.01, 0.025, 0.03, 0.035, 0.04, 0.042, 0.045, 0.048, 0.05, 0.05, 0.048, 0.045, 0.04, 0.036, 0.032, 0.03, 0.028, 0.026, 0.024, 0.022],
    [0.0, 0.008, 0.035, 0.09, 0.11, 0.12, 0.115, 0.1, 0.085, 0.065, 0.055, 0.048, 0.044, 0.041, 0.039, 0.037, 0.036, 0.035, 0.034, 0.034, 0.033, 0.033],
    [0.0, 0.005, 0.02, 0.055, 0.07, 0.08, 0.085, 0.08, 0.072, 0.06, 0.052, 0.047, 0.043, 0.04, 0.038, 0.036, 0.035, 0.034, 0.033, 0.032, 0.031, 0.03],
    [0.0, 0.004, 0.015, 0.04, 0.05, 0.058, 0.062, 0.064, 0.065, 0.065, 0.072, 0.08, 0.07, 0.055, 0.045, 0.04, 0.037, 0.035, 0.034, 0.033, 0.032, 0.031],
]
visual_d_avg_ctrl = [0.0, 0.001, 0.003, 0.005, 0.008, 0.011, 0.016, 0.021, 0.03, 0.042, 0.055, 0.067, 0.076, 0.08,
                     0.079, 0.074, 0.067, 0.056, 0.051, 0.05, 0.051, 0.052, 0.052, 0.051, 0.05, 0.046, 0.043, 0.041,
                     0.04, 0.04, 0.04, 0.041, 0.041, 0.043]
visual_d_avg_pd = [0.002, 0.004, 0.008, 0.013, 0.022, 0.035, 0.055, 0.068, 0.082, 0.095, 0.102, 0.104, 0.101, 0.094,
                   0.085, 0.077, 0.07, 0.062, 0.06, 0.059, 0.059, 0.058, 0.056, 0.053, 0.05, 0.046, 0.043, 0.041,
                   0.039, 0.038, 0.037, 0.037, 0.037, 0.036]

# y axis settings per panel: (limit, ticks, labels)
Y_AXES = [
    [((0, 12), [0, 4, 8, 12], ["0", "4", "8", "12"]),
     ((0, 3.53), [0, 1, 2, 3], ["0", "1", "2", "3"]),
     ((0, 60), [0, 20, 40, 60], ["0", "20", "40", "60"]),
     ((0, 8), [0, 2, 4, 6, 8], ["0", "2", "4", "6", "8"])],
    [((0, 0.221), [0, 0.05, 0.1, 0.15, 0.2], ["0", "0.05", "0.1", "0.15", "0.2"]),
     ((0, 0.0613), [0, 0.01, 0.02, 0.03, 0.04, 0.05, 0.06], ["0", "0.01", "0.02", "0.03", "0.04", "0.05", "0.06"]),
     ((0, 0.4), [0, 0.1, 0.2, 0.3, 0.4], ["0", "0.1", "0.2", "0.3", "0.4"]),
     ((0, 0.08), [0, 0.02, 0.04, 0.06, 0.08], ["0", "0.02", "0.04", "0.06", "0.08"])],
    [((0, 0.262), [0, 0.05, 0.1, 0.15, 0.2, 0.25], ["0", "0.05", "0.1", "0.15", "0.2", "0.25"]),
     ((0, 0.12), [0, 0.02, 0.04, 0.06, 0.08, 0.10, 0.12], ["0", "0.02", "0.04", "0.06", "0.08", "0.10", "0.12"]),
     ((0, 0.5), [0, 0.1, 0.2, 0.3, 0.4, 0.5], ["0", "0.1", "0.2", "0.3", "0.4", "0.5"]),
     ((0, 0.12), [0, 0.02, 0.04, 0.06, 0.08, 0.10, 0.12], ["0", "0.02", "0.04", "0.06", "0.08", "0.10", "0.12"])],
]

ROWS = [
    (FREQ_IND, [(motor_raw_ind_ctrl, motor_raw_ind_pd), (motor_raw_avg_ctrl, motor_raw_avg_pd),
                (visual_raw_ind_ctrl, visual_raw_ind_pd), (visual_raw_avg_ctrl, visual_raw_avg_pd)]),
    (FREQ_IND, [(motor_z_ind_ctrl, motor_z_ind_pd), (motor_z_avg_ctrl, motor_z_avg_pd),
                (visual_z_ind_ctrl, visual_z_ind_pd), (visual_z_avg_ctrl, visual_z_avg_pd)]),
    (FREQ_DER, [(motor_d_ind_ctrl, motor_d_ind_pd), (motor_d_avg_ctrl, motor_d_avg_pd),
                (visual_d_ind_ctrl, visual_d_ind_pd), (visual_d_avg_ctrl, visual_d_avg_pd)]),
]

# pixel boxes of the axes (left, right) and (top, bottom)
COLS_PX = [(68, 283), (332, 546), (587, 802), (852, 1067)]
ROWS_PX = [(192, 385), (535, 725), (870, 1061)]


def fx(px):
    return px / W


def fy(py):
    return 1 - py / H


fig = plt.figure(figsize=(W / 100, H / 100), dpi=100)

for r, (freq_ind, panels) in enumerate(ROWS):
    top, bottom = ROWS_PX[r]
    for c, (ctrl, pd_) in enumerate(panels):
        left, right = COLS_PX[c]
        ax = fig.add_axes([fx(left), fy(bottom), (right - left) / W, (bottom - top) / H])
        if c in (0, 2):
            # individual participants, thin lines
            for a, b in zip(ctrl, pd_):
                ax.plot(freq_ind, a, color=RED, lw=0.8, alpha=0.9)
                ax.plot(freq_ind, b, color=BLUE, lw=0.8, alpha=0.9)
        else:
            # group averages, thick lines
            ax.plot(FREQ_AVG, ctrl, color=RED, lw=4.3, solid_capstyle="butt")
            ax.plot(FREQ_AVG, pd_, color=BLUE, lw=4.3, solid_capstyle="butt")

        ylim, yticks, ylabels = Y_AXES[r][c]
        ax.set_xlim(1, 45)
        ax.set_ylim(*ylim)
        xt = list(range(5, 46, 5))
        ax.set_xticks(xt)
        ax.set_xticklabels([str(t) if t % 10 == 0 and t < 45 else "" for t in xt])
        ax.set_yticks(yticks)
        ax.set_yticklabels(ylabels)
        for s in ["top", "right"]:
            ax.spines[s].set_visible(False)
        for s in ["left", "bottom"]:
            ax.spines[s].set_linewidth(1.5)
        ax.tick_params(direction="in", length=4, width=1.2, labelsize=10, labelcolor=GREY)
        ax.tick_params(axis="y", pad=8)
        ax.tick_params(axis="x", pad=6)
        ax.set_xlabel("Frequency (Hz)", fontsize=10, color=GREY, labelpad=8)
        ax.patch.set_alpha(0)

# y label of the first panel
fig.text(fx(19), fy(290), "Power (fT/cm)$^2$", rotation=90, ha="center", va="center",
         fontsize=10, color=GREY)

# titles and headers
cond = dict(family="DejaVu Sans", fontstretch="condensed")
fig.text(fx(560), fy(24), "Power in visual and motor ROIs", ha="center", va="center",
         fontsize=20.5, fontweight="bold", **cond)
fig.text(fx(296), fy(79), "Power in motor ROIs", ha="center", va="center",
         fontsize=18, fontweight="bold", **cond)
fig.text(fx(816), fy(79), "Power in visual ROI", ha="center", va="center",
         fontsize=18, fontweight="bold", **cond)
for xc, label in zip([168, 435, 699, 959],
                     ["Individual participants", "Group average", "Individual participants", "Group average"]):
    fig.text(fx(xc), fy(115), label, ha="center", va="center", fontsize=15, color="#222222", **cond)

# dotted separators
for yy in [134, 465, 800]:
    fig.add_artist(Line2D([fx(55), fx(1065)], [fy(yy), fy(yy)], transform=fig.transFigure,
                          color="black", lw=1.8, linestyle=(0, (1.5, 1.2))))

# row letters and row titles
for yy, letter in zip([155, 489, 826], ["a)", "b)", "c)"]):
    fig.text(fx(25), fy(yy), letter, ha="center", va="center", fontsize=14)
for yy, title in zip([163, 497, 833],
                     ["Raw data", "Normalised data (z-scored)", "Normalised data (z-scored + derivative)"]):
    fig.text(fx(553), fy(yy), title, ha="center", va="center", fontsize=14, fontweight="bold")

# legend box in the top right corner
handles = [Line2D([], [], color=RED, lw=2), Line2D([], [], color=BLUE, lw=2)]
leg = fig.legend(handles, ["Control Participants", "PD Participants"], loc="upper left",
                 bbox_to_anchor=(fx(852), fy(60), (1065 - 852) / W, 55 / H), mode="expand",
                 borderaxespad=0, frameon=True, fancybox=False, edgecolor="black", framealpha=1,
                 prop=dict(family="DejaVu Sans", stretch="condensed", size=12),
                 handlelength=1.8, handletextpad=0.35, labelspacing=0.05, borderpad=0.55)
leg.get_frame().set_linewidth(2)

plt.savefig("out.png", dpi=100)
